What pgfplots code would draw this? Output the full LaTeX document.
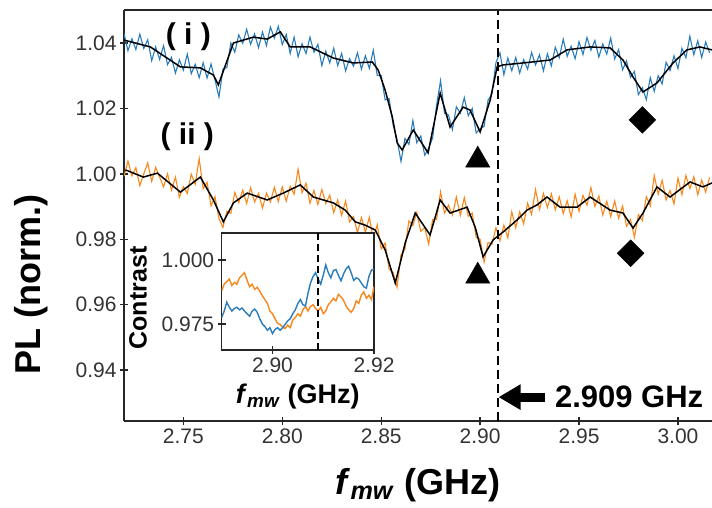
\documentclass[border=0pt]{standalone}
\usepackage{fontspec}
\setmainfont{Liberation Sans}
\usepackage{pgfplots}
\pgfplotsset{compat=1.18}
\usetikzlibrary{arrows.meta}
\definecolor{tabblue}{HTML}{2A7DBA}
\definecolor{taborange}{HTML}{F7891C}
\definecolor{tickgray}{HTML}{333333}

\pgfplotstableread{
x y
2.720 1.0429
2.722 1.0376
2.724 1.0413
2.726 1.0380
2.728 1.0427
2.730 1.0383
2.732 1.0410
2.734 1.0346
2.736 1.0388
2.738 1.0350
2.740 1.0392
2.742 1.0334
2.744 1.0356
2.746 1.0308
2.748 1.0349
2.750 1.0317
2.752 1.0366
2.754 1.0306
2.756 1.0335
2.758 1.0294
2.760 1.0340
2.762 1.0293
2.764 1.0336
2.766 1.0287
2.768 1.0235
2.770 1.0320
2.772 1.0325
2.774 1.0400
2.776 1.0372
2.778 1.0425
2.780 1.0399
2.782 1.0442
2.784 1.0396
2.786 1.0428
2.788 1.0386
2.790 1.0434
2.792 1.0392
2.794 1.0449
2.796 1.0415
2.798 1.0451
2.800 1.0395
2.802 1.0426
2.804 1.0368
2.806 1.0418
2.808 1.0358
2.810 1.0398
2.812 1.0368
2.814 1.0418
2.816 1.0372
2.818 1.0396
2.820 1.0331
2.822 1.0375
2.824 1.0339
2.826 1.0384
2.828 1.0331
2.830 1.0368
2.832 1.0315
2.834 1.0352
2.836 1.0329
2.838 1.0370
2.840 1.0320
2.842 1.0361
2.844 1.0322
2.846 1.0378
2.848 1.0301
2.850 1.0301
2.852 1.0226
2.854 1.0230
2.856 1.0150
2.858 1.0105
2.860 1.0038
2.862 1.0108
2.864 1.0090
2.866 1.0163
2.868 1.0095
2.870 1.0116
2.872 1.0057
2.874 1.0078
2.876 1.0110
2.878 1.0210
2.880 1.0285
2.882 1.0185
2.884 1.0180
2.886 1.0135
2.888 1.0205
2.890 1.0185
2.892 1.0233
2.894 1.0178
2.896 1.0200
2.898 1.0125
2.900 1.0138
2.902 1.0145
2.904 1.0225
2.906 1.0245
2.908 1.0340
2.910 1.0370
2.912 1.0303
2.914 1.0354
2.916 1.0315
2.918 1.0356
2.920 1.0308
2.922 1.0349
2.924 1.0320
2.926 1.0371
2.928 1.0333
2.930 1.0364
2.932 1.0315
2.934 1.0367
2.936 1.0330
2.938 1.0387
2.940 1.0355
2.942 1.0412
2.944 1.0359
2.946 1.0390
2.948 1.0352
2.950 1.0404
2.952 1.0365
2.954 1.0417
2.956 1.0378
2.958 1.0408
2.960 1.0357
2.962 1.0397
2.964 1.0366
2.966 1.0415
2.968 1.0351
2.970 1.0380
2.972 1.0318
2.974 1.0345
2.976 1.0295
2.978 1.0313
2.980 1.0242
2.982 1.0263
2.984 1.0227
2.986 1.0294
2.988 1.0252
2.990 1.0300
2.992 1.0275
2.994 1.0341
2.996 1.0316
2.998 1.0361
3.000 1.0322
3.002 1.0384
3.004 1.0355
3.006 1.0421
3.008 1.0364
3.010 1.0407
3.012 1.0356
3.014 1.0403
3.016 1.0370
}\bluenoisy

\pgfplotstableread{
x y
2.7200 1.0409
2.7333 1.0388
2.7485 1.0327
2.7586 1.0324
2.7652 1.0302
2.7677 1.0272
2.7753 1.0400
2.7854 1.0418
2.7924 1.0412
2.7990 1.0434
2.8040 1.0388
2.8141 1.0388
2.8258 1.0354
2.8359 1.0339
2.8455 1.0342
2.8485 1.0317
2.8520 1.0256
2.8556 1.0174
2.8581 1.0094
2.8606 1.0073
2.8662 1.0134
2.8737 1.0064
2.8798 1.0247
2.8848 1.0143
2.8914 1.0204
2.8949 1.0195
2.9000 1.0128
2.9051 1.0226
2.9086 1.0327
2.9116 1.0333
2.9217 1.0339
2.9354 1.0348
2.9439 1.0379
2.9556 1.0388
2.9657 1.0385
2.9722 1.0348
2.9773 1.0296
2.9823 1.0250
2.9894 1.0278
2.9975 1.0339
3.0045 1.0379
3.0111 1.0388
3.0172 1.0379
}\bluesmooth

\pgfplotstableread{
x y
2.720 0.9992
2.722 1.0039
2.724 0.9994
2.726 1.0019
2.728 0.9964
2.730 1.0000
2.732 1.0034
2.734 0.9977
2.736 1.0020
2.738 0.9990
2.740 0.9960
2.742 1.0000
2.744 0.9950
2.746 0.9990
2.748 0.9928
2.750 0.9961
2.752 0.9940
2.754 0.9999
2.756 0.9968
2.758 1.0047
2.760 0.9955
2.762 0.9974
2.764 0.9902
2.766 0.9930
2.768 0.9863
2.770 0.9836
2.772 0.9885
2.774 0.9879
2.776 0.9943
2.778 0.9912
2.780 0.9950
2.782 0.9909
2.784 0.9958
2.786 0.9914
2.788 0.9940
2.790 0.9895
2.792 0.9941
2.794 0.9914
2.796 0.9959
2.798 0.9915
2.800 0.9960
2.802 0.9916
2.804 0.9962
2.806 0.9938
2.808 1.0014
2.810 0.9942
2.812 0.9971
2.814 0.9910
2.816 0.9949
2.818 0.9906
2.820 0.9952
2.822 0.9909
2.824 0.9935
2.826 0.9881
2.828 0.9920
2.830 0.9873
2.832 0.9917
2.834 0.9853
2.836 0.9869
2.838 0.9820
2.840 0.9866
2.842 0.9822
2.844 0.9867
2.846 0.9801
2.848 0.9844
2.850 0.9770
2.852 0.9788
2.854 0.9708
2.856 0.9698
2.858 0.9653
2.860 0.9752
2.862 0.9770
2.864 0.9856
2.866 0.9842
2.868 0.9882
2.870 0.9824
2.872 0.9836
2.874 0.9785
2.876 0.9860
2.878 0.9860
2.880 0.9945
2.882 0.9880
2.884 0.9904
2.886 0.9874
2.888 0.9929
2.890 0.9873
2.892 0.9927
2.894 0.9870
2.896 0.9880
2.898 0.9806
2.900 0.9800
2.902 0.9730
2.904 0.9790
2.906 0.9785
2.908 0.9835
2.910 0.9795
2.912 0.9843
2.914 0.9804
2.916 0.9884
2.918 0.9835
2.920 0.9884
2.922 0.9847
2.924 0.9910
2.926 0.9876
2.928 0.9952
2.930 0.9891
2.932 0.9940
2.934 0.9897
2.936 0.9939
2.938 0.9890
2.940 0.9930
2.942 0.9878
2.944 0.9918
2.946 0.9868
2.948 0.9938
2.950 0.9885
2.952 0.9934
2.954 0.9904
2.956 0.9958
2.958 0.9900
2.960 0.9932
2.962 0.9874
2.964 0.9916
2.966 0.9869
2.968 0.9917
2.970 0.9864
2.972 0.9901
2.974 0.9840
2.976 0.9860
2.978 0.9806
2.980 0.9875
2.982 0.9857
2.984 0.9930
2.986 0.9902
2.988 0.9995
2.990 0.9938
2.992 0.9980
2.994 0.9920
2.996 0.9949
2.998 0.9908
3.000 0.9987
3.002 0.9936
3.004 0.9995
3.006 0.9955
3.008 0.9991
3.010 0.9936
3.012 0.9981
3.014 0.9944
3.016 0.9989
}\orangenoisy

\pgfplotstableread{
x y
2.7207 1.0012
2.7298 0.9990
2.7369 1.0002
2.7485 0.9944
2.7586 0.9990
2.7652 0.9920
2.7702 0.9853
2.7753 0.9911
2.7823 0.9941
2.7924 0.9920
2.8005 0.9941
2.8091 0.9966
2.8157 0.9929
2.8258 0.9911
2.8318 0.9889
2.8369 0.9853
2.8419 0.9843
2.8470 0.9828
2.8520 0.9767
2.8571 0.9666
2.8621 0.9788
2.8672 0.9880
2.8747 0.9813
2.8798 0.9920
2.8848 0.9880
2.8934 0.9898
2.8975 0.9837
2.9015 0.9746
2.9066 0.9798
2.9116 0.9822
2.9187 0.9859
2.9237 0.9889
2.9288 0.9905
2.9338 0.9929
2.9404 0.9898
2.9490 0.9898
2.9556 0.9929
2.9657 0.9889
2.9722 0.9880
2.9773 0.9834
2.9823 0.9880
2.9894 0.9960
2.9960 0.9929
3.0061 0.9975
3.0126 0.9960
3.0172 0.9972
}\orangesmooth

\pgfplotstableread{
x y
2.8900 0.9880
2.8905 0.9905
2.8910 0.9915
2.8915 0.9925
2.8920 0.9900
2.8925 0.9912
2.8930 0.9905
2.8935 0.9930
2.8940 0.9940
2.8945 0.9950
2.8950 0.9920
2.8955 0.9895
2.8960 0.9905
2.8965 0.9885
2.8970 0.9893
2.8975 0.9878
2.8980 0.9860
2.8985 0.9845
2.8990 0.9830
2.8995 0.9800
2.9000 0.9790
2.9005 0.9770
2.9010 0.9752
2.9015 0.9748
2.9020 0.9738
2.9025 0.9732
2.9030 0.9745
2.9035 0.9735
2.9040 0.9765
2.9045 0.9775
2.9050 0.9790
2.9055 0.9780
2.9060 0.9805
2.9065 0.9818
2.9070 0.9800
2.9075 0.9818
2.9080 0.9825
2.9085 0.9810
2.9090 0.9800
2.9095 0.9815
2.9100 0.9790
2.9105 0.9800
2.9110 0.9825
2.9115 0.9835
2.9120 0.9850
2.9125 0.9840
2.9130 0.9865
2.9135 0.9855
2.9140 0.9842
2.9145 0.9820
2.9150 0.9805
2.9155 0.9795
2.9160 0.9810
2.9165 0.9840
2.9170 0.9830
2.9175 0.9862
2.9180 0.9875
2.9185 0.9850
2.9190 0.9862
2.9195 0.9845
2.9200 0.9895
}\orangeinset

\pgfplotstableread{
x y
2.8900 0.9775
2.8905 0.9800
2.8910 0.9835
2.8915 0.9815
2.8920 0.9800
2.8925 0.9810
2.8930 0.9815
2.8935 0.9805
2.8940 0.9812
2.8945 0.9800
2.8950 0.9790
2.8955 0.9780
2.8960 0.9800
2.8965 0.9808
2.8970 0.9795
2.8975 0.9770
2.8980 0.9750
2.8985 0.9740
2.8990 0.9725
2.8995 0.9735
2.9000 0.9712
2.9005 0.9728
2.9010 0.9735
2.9015 0.9725
2.9020 0.9735
2.9025 0.9748
2.9030 0.9762
2.9035 0.9770
2.9040 0.9790
2.9045 0.9805
2.9050 0.9830
2.9055 0.9845
2.9060 0.9825
2.9065 0.9820
2.9070 0.9870
2.9075 0.9910
2.9080 0.9935
2.9085 0.9950
2.9090 0.9925
2.9095 0.9905
2.9100 0.9940
2.9105 0.9980
2.9110 0.9950
2.9115 0.9930
2.9120 0.9958
2.9125 0.9962
2.9130 0.9940
2.9135 0.9918
2.9140 0.9945
2.9145 0.9965
2.9150 0.9975
2.9155 0.9950
2.9160 0.9920
2.9165 0.9930
2.9170 0.9925
2.9175 0.9910
2.9180 0.9895
2.9185 0.9890
2.9190 0.9935
2.9195 0.9960
2.9200 0.9965
}\blueinset

\begin{document}
\begin{tikzpicture}[x=1pt,y=1pt]
\begin{axis}[
  at={(124pt,87pt)}, anchor=south west,
  width=588pt, height=411pt, scale only axis,
  xmin=2.72, xmax=3.0172, ymin=0.9244, ymax=1.0501,
  axis lines=left,
  axis line style={-, line width=1.6pt, black!85},
  tick align=center,
  major tick length=8pt,
  tick style={line width=1.4pt, black!85},
  xtick={2.75,2.80,2.85,2.90,2.95,3.00},
  ytick={0.94,0.96,0.98,1.00,1.02,1.04},
  /pgf/number format/assume math mode=true,
  /pgf/number format/.cd, fixed, fixed zerofill, precision=2, /pgfplots/.cd,
  ticklabel style={font=\fontsize{21}{21}\selectfont, text=tickgray},
  xlabel={\textbf{\textit{f}\textsubscript{\textit{mw}} (GHz)}},
  xlabel style={at={(axis description cs:0.5,0)}, anchor=center, yshift=-64pt, font=\fontsize{36}{36}\selectfont},
  ylabel={\textbf{PL (norm.)}},
  ylabel style={at={(axis description cs:-0.158,0.331)}, anchor=center, font=\fontsize{36}{36}\selectfont},
  clip=true,
]
\addplot[tabblue, line width=1.1pt] table {\bluenoisy};
\addplot[black, line width=1.5pt] table {\bluesmooth};
\addplot[taborange, line width=1.1pt] table {\orangenoisy};
\addplot[black, line width=1.5pt] table {\orangesmooth};
\addplot[black, line width=2.6pt, dash pattern=on 9pt off 5pt] coordinates {(2.909,0.9244) (2.909,1.0501)};
\addplot[only marks, black, mark=triangle*, mark size=14pt] coordinates {(2.8988,1.0042) (2.8988,0.9687)};
\addplot[only marks, black, mark=square*, mark size=9.5pt, mark options={rotate=45}] coordinates {(2.9820,1.0165) (2.9761,0.9757)};
\draw[line width=1.6pt, black!85] (rel axis cs:0,1) -- (rel axis cs:1,1);
\node[font=\fontsize{30}{30}\selectfont\bfseries] at (axis cs:2.7525,1.0418) {( i )};
\node[font=\fontsize{30}{30}\selectfont\bfseries] at (axis cs:2.752,1.0113) {( ii )};
\node[font=\fontsize{31}{31}\selectfont\bfseries] at (axis cs:2.9753,0.9317) {2.909 GHz};
\draw[line width=9pt, -{Triangle[length=22pt,width=24pt]}] (axis cs:2.9330,0.9317) -- (axis cs:2.9093,0.9317);
\end{axis}
\begin{axis}[
  at={(221.7pt,158pt)}, anchor=south west,
  width=152.3pt, height=117pt, scale only axis,
  xmin=2.890, xmax=2.920, ymin=0.9648, ymax=1.0105,
  axis background/.style={fill=white},
  axis line style={line width=1.5pt, black!85},
  tick align=center,
  major tick length=8pt,
  tick style={line width=1.4pt, black!85},
  xtick={2.90,2.92}, ytick={0.975,1.000},
  xtick pos=bottom, ytick pos=left,
  /pgf/number format/assume math mode=true,
  xticklabel={\pgfmathprintnumber[fixed,fixed zerofill,precision=2]{\tick}},
  yticklabel={\pgfmathprintnumber[fixed,fixed zerofill,precision=3]{\tick}},
  ticklabel style={font=\fontsize{21}{21}\selectfont, text=tickgray},
  xlabel={\textbf{\textit{f}\textsubscript{\textit{mw}} (GHz)}},
  xlabel style={at={(axis description cs:0.5,-0.40)}, anchor=center, font=\fontsize{27}{27}\selectfont},
  ylabel={\textbf{Contrast}},
  ylabel style={at={(axis description cs:-0.55,0.444)}, anchor=center, font=\fontsize{25}{25}\selectfont},
]
\addplot[taborange, line width=1.4pt] table {\orangeinset};
\addplot[tabblue, line width=1.4pt] table {\blueinset};
\addplot[black, line width=2.2pt, dash pattern=on 7pt off 4pt] coordinates {(2.909,0.9648) (2.909,1.0105)};
\end{axis}
\pgfresetboundingbox
\path[use as bounding box] (0,0) rectangle (712,508);
\end{tikzpicture}
\end{document}
